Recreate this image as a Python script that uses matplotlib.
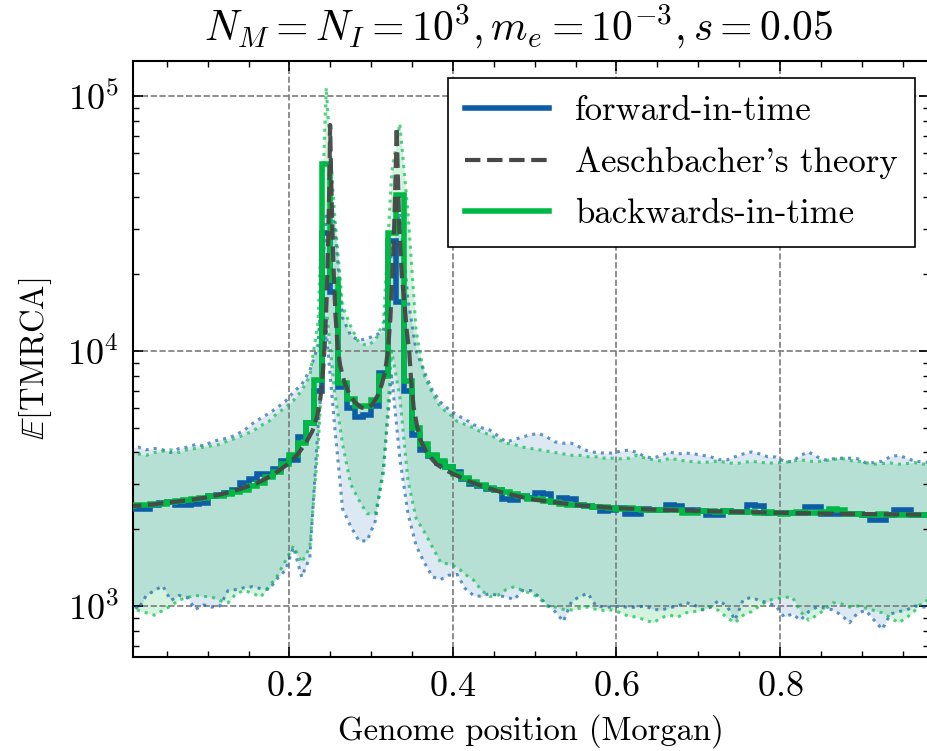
import numpy as np
import matplotlib
matplotlib.use("Agg")
import matplotlib.pyplot as plt
from matplotlib.lines import Line2D
from matplotlib.ticker import MultipleLocator, LogLocator

plt.rcParams['font.family'] = 'serif'
plt.rcParams['font.serif'] = ['cmr10', 'DejaVu Serif']
plt.rcParams['mathtext.fontset'] = 'cm'
plt.rcParams['axes.formatter.use_mathtext'] = True

# bins of width 0.01 (Morgan)
bin_edges = np.linspace(0, 0.99, 100)
centers = bin_edges[:-1] + 0.005

# backwards-in-time (green) mean per bin
green_mean = [2470, 2480, 2500, 2510, 2520, 2560, 2580, 2600, 2620, 2650,
              2690, 2710, 2760, 2800, 2860, 2960, 3050, 3200, 3350, 3600,
              3910, 4360, 5230, 7700, 54000, 19000, 7500, 6500, 6100, 6100,
              6400, 8000, 29000, 41000, 7600, 5000, 4300, 3900, 3700, 3520,
              3300, 3180, 3060, 2980, 2900, 2860, 2800, 2760, 2690, 2620,
              2620, 2580, 2550, 2520, 2490, 2480, 2460, 2440, 2450, 2430,
              2400, 2420, 2410, 2380, 2390, 2380, 2390, 2370, 2320, 2320,
              2360, 2350, 2340, 2350, 2340, 2330, 2340, 2320, 2330, 2320,
              2300, 2310, 2330, 2320, 2310, 2330, 2410, 2380, 2290, 2290,
              2270, 2280, 2290, 2280, 2270, 2270, 2280, 2280, 2270]

# forward-in-time (blue) mean per bin
blue_mean = [2460, 2400, 2400, 2500, 2540, 2560, 2480, 2480, 2520, 2540,
             2700, 2730, 2780, 2850, 3050, 3150, 3300, 3300, 3450, 3700,
             3730, 4600, 5230, 7000, 29000, 17000, 7200, 6000, 5500, 5600,
             6100, 8200, 27000, 15500, 7000, 4700, 4100, 3880, 3650, 3500,
             3350, 3150, 3000, 2960, 2880, 2840, 2640, 2600, 2690, 2650,
             2780, 2760, 2560, 2650, 2640, 2480, 2460, 2450, 2360, 2370,
             2420, 2290, 2290, 2400, 2390, 2390, 2480, 2470, 2380, 2370,
             2360, 2270, 2270, 2350, 2340, 2340, 2480, 2470, 2320, 2320,
             2310, 2310, 2310, 2450, 2440, 2300, 2300, 2290, 2290, 2290,
             2280, 2170, 2170, 2280, 2380, 2370, 2270, 2270, 2270]

blue_lower = [1050, 970, 1100, 1150, 1200, 1050, 1100, 1080, 970, 1010,
              990, 1000, 1150, 1160, 1180, 1190, 1170, 1160, 1280, 1380,
              1700, 1300, 1550, 5000, 12000, 5200, 2400, 2050, 1800, 1800,
              2150, 3500, 8000, 3800, 2300, 1720, 1480, 1300, 1270, 1320,
              1330, 1170, 1100, 1090, 1120, 1100, 1085, 1060, 1150, 1150,
              1090, 1010, 950, 870, 1040, 1090, 1120, 1000, 990, 990,
              1000, 985, 990, 1000, 970, 965, 985, 1000, 1030, 1010,
              965, 990, 1050, 1000, 880, 1060, 1080, 1050, 1030, 1000,
              905, 930, 880, 950, 990, 980, 965, 920, 860, 940,
              960, 880, 810, 930, 950, 965, 1000, 990, 1000]

blue_upper = [4150, 4200, 4100, 4150, 4100, 4000, 4150, 4200, 4300, 4250,
              4400, 4500, 4550, 4700, 4900, 5200, 5450, 5700, 6000, 6350,
              6900, 7400, 8400, 10500, 35000, 32000, 13500, 11500, 11000, 11200,
              11500, 12000, 25000, 35000, 16000, 10000, 8300, 7000, 6300, 5900,
              5600, 5400, 5150, 5000, 4900, 4650, 4400, 4500, 4600, 4700,
              4750, 4600, 4400, 4350, 4350, 4200, 4050, 4000, 3980, 3980,
              4050, 4090, 4000, 3850, 3800, 3900, 4020, 3950, 3980, 3950,
              3900, 3850, 3750, 3740, 3850, 3950, 4020, 3950, 3850, 3840,
              3700, 3680, 3900, 4020, 3850, 3740, 3780, 3800, 3800, 3780,
              3640, 3650, 3700, 3850, 3900, 3800, 3700, 3670, 3650]

green_lower = [1000, 960, 940, 920, 960, 1000, 1055, 1080, 1100, 1090,
               1085, 1050, 1030, 1120, 1150, 1120, 1085, 1190, 1310, 1500,
               1720, 1480, 1700, 4200, 15000, 7000, 4300, 3000, 2600, 2300,
               2300, 3300, 10000, 6600, 3100, 2200, 1950, 1700, 1480, 1460,
               1420, 1330, 1265, 1150, 1090, 1100, 1160, 1190, 1150, 1120,
               1080, 1000, 990, 970, 965, 980, 990, 970, 960, 965,
               940, 910, 905, 880, 860, 900, 920, 905, 940, 950,
               970, 990, 960, 900, 860, 920, 950, 1000, 1050, 1070,
               1080, 1085, 950, 880, 920, 970, 1030, 1020, 990, 1000,
               980, 960, 940, 900, 860, 900, 960, 1040, 1060]

green_upper = [4000, 3950, 3900, 4000, 4050, 4100, 4000, 4100, 4150, 4200,
               4250, 4300, 4450, 4550, 4700, 4850, 5100, 5300, 5700, 6000,
               6400, 7000, 8000, 13000, 108000, 35000, 15000, 12500, 10800, 10500,
               11000, 13000, 50000, 78000, 35000, 12000, 8000, 6800, 6000, 5700,
               5300, 5150, 5000, 4800, 4700, 4500, 4350, 4300, 4200, 4150,
               4100, 4050, 4000, 3950, 3900, 3900, 3850, 3850, 3800, 3800,
               3780, 3800, 3900, 3800, 3750, 3700, 3800, 3750, 3700, 3680,
               3650, 3680, 3700, 3650, 3620, 3650, 3700, 3660, 3640, 3640,
               3650, 3700, 3750, 3700, 3680, 3720, 3750, 3800, 3720, 3700,
               3650, 3600, 3620, 3640, 3600, 3620, 3650, 3600, 3620]

# Aeschbacher's theory curve
theory_x = [0.000, 0.020, 0.050, 0.080, 0.100, 0.120, 0.140, 0.160, 0.180,
            0.200, 0.210, 0.220, 0.228, 0.234, 0.238, 0.241, 0.2435, 0.2455,
            0.2475, 0.249, 0.2498, 0.2508, 0.2525, 0.2545, 0.2565, 0.259,
            0.262, 0.267, 0.273, 0.280, 0.288, 0.295, 0.302, 0.308, 0.313,
            0.317, 0.3205, 0.3235, 0.326, 0.328, 0.3298, 0.3312, 0.3325,
            0.3345, 0.3373, 0.341, 0.3435, 0.3465, 0.349, 0.352, 0.356,
            0.360, 0.366, 0.372, 0.380, 0.390, 0.400, 0.420, 0.440, 0.460,
            0.480, 0.500, 0.550, 0.600, 0.650, 0.700, 0.750, 0.800, 0.850,
            0.900, 0.950, 1.000]
theory_y = [2460, 2480, 2540, 2610, 2670, 2760, 2880, 3030, 3270,
            3640, 3930, 4350, 4850, 5550, 6600, 8300, 11000, 16000,
            28000, 48000, 77000, 52000, 30000, 19000, 13500, 10300,
            8800, 7600, 6800, 6300, 6000, 5950, 6200, 6700, 7400,
            8300, 10000, 13500, 20000, 30000, 48000, 75500, 50000,
            30000, 20000, 15000, 12000, 10000, 7500, 6000, 5100,
            4500, 4100, 3840, 3600, 3420, 3300, 3080, 2920, 2790,
            2690, 2610, 2490, 2420, 2385, 2360, 2340, 2320, 2305,
            2295, 2285, 2275]

blue = '#0C5DA5'
green = '#00B945'
grey = '#474747'

fig = plt.figure(figsize=(9.27, 7.51), dpi=100)
ax = fig.add_axes([133 / 927, 94 / 751, 796 / 927, 596 / 751])

ax.fill_between(centers, blue_lower, blue_upper, color=blue, alpha=0.14, lw=0)
ax.fill_between(centers, green_lower, green_upper, color=green, alpha=0.17, lw=0)
for arr in (blue_lower, blue_upper):
    ax.plot(centers, arr, ls=':', lw=2.2, color=blue, alpha=0.65, zorder=2)
for arr in (green_lower, green_upper):
    ax.plot(centers, arr, ls=':', lw=2.2, color=green, alpha=0.65, zorder=2)

ax.stairs(blue_mean, bin_edges, color=blue, lw=4, baseline=None, zorder=3)
ax.stairs(green_mean, bin_edges, color=green, lw=4, baseline=None, zorder=3.1)
ax.plot(theory_x, theory_y, ls='--', lw=3, color=grey, alpha=0.95, zorder=4)

ax.set_yscale('log')
ax.set_xlim(0.0087, 0.9822)
ax.set_ylim(631, 1.372e5)
ax.set_xticks([0.2, 0.4, 0.6, 0.8])
ax.xaxis.set_minor_locator(MultipleLocator(0.05))
ax.yaxis.set_minor_locator(LogLocator(base=10, subs=np.arange(2, 10)))

ax.tick_params(which='both', direction='in', top=True, right=True)
ax.tick_params(which='major', length=7.5, width=1.2, labelsize=26, pad=10)
ax.tick_params(which='minor', length=4.5, width=1.0)
for sp in ax.spines.values():
    sp.set_linewidth(1.5)

ax.grid(True, which='major', ls='--', color='#7a7a7a', lw=1.2)

ax.set_xlabel('Genome position (Morgan)', fontsize=23.5, labelpad=8)
ax.set_ylabel(r'$\mathbb{E}$[TMRCA]', fontsize=23.5, labelpad=10)
ax.set_title(r'$N_M = N_I = 10^3, m_e = 10^{-3}, s = 0.05$', fontsize=30,
             pad=15, x=0.485)

handles = [Line2D([], [], color=blue, lw=4),
           Line2D([], [], color=grey, lw=3, ls='--'),
           Line2D([], [], color=green, lw=4)]
labels = ['forward-in-time', "Aeschbacher's theory", 'backwards-in-time']
leg = ax.legend(handles, labels, loc='upper right', bbox_to_anchor=(0.982, 0.9715),
                borderaxespad=0, fontsize=25, fancybox=False, framealpha=1,
                edgecolor='black', handlelength=2.4, handletextpad=0.75,
                labelspacing=0.56, borderpad=0.5)
leg.get_frame().set_linewidth(1.2)
leg.set_zorder(10)

fig.savefig('out.png', dpi=100)
